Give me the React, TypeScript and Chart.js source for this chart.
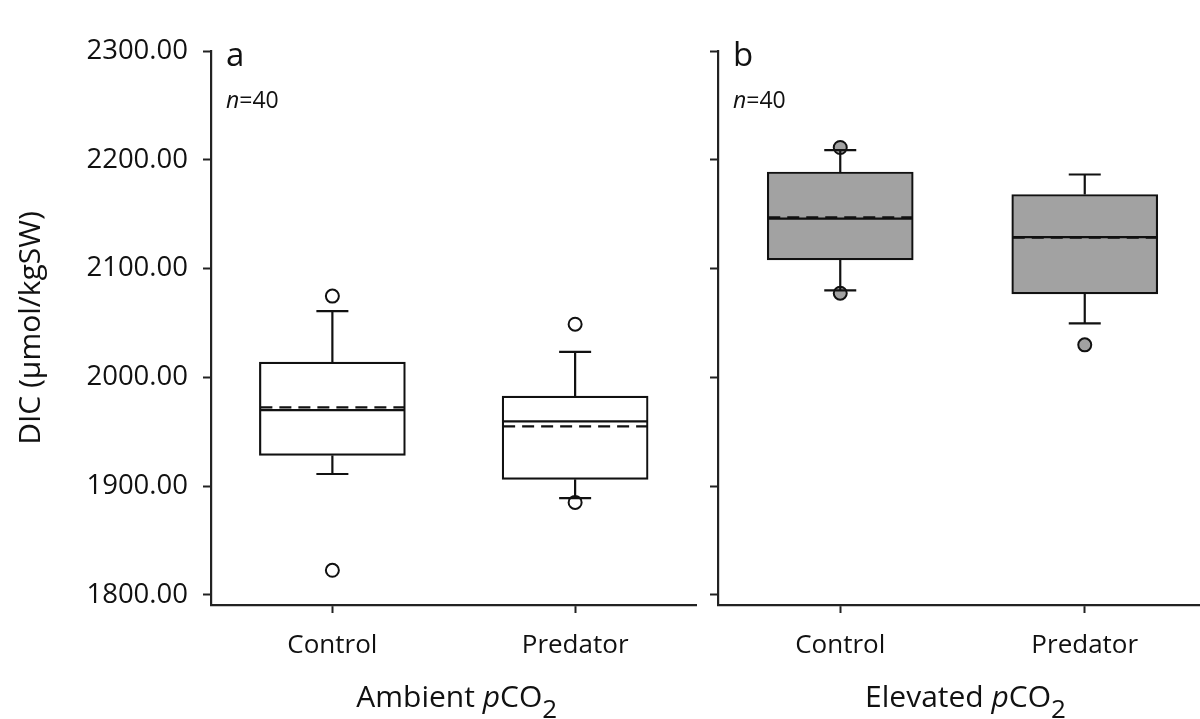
import React, { useEffect, useRef } from 'react';
import { Chart, registerables } from 'chart.js';

Chart.register(...registerables);

// ---- data -------------------------------------------------------------
const CATEGORIES = ['Control', 'Predator'];
const Y_TICKS = [1800, 1900, 2000, 2100, 2200, 2300];
const Y_MIN = 1790.8;
const Y_MAX = 2300;
const SAMPLE_SIZE = 40;

// Ambient pCO2
const AMB_Q1 = [1928.3, 1906.3];
const AMB_Q3 = [2014.0, 1982.8];
const AMB_MEDIAN = [1969.9, 1959.6];
const AMB_MEAN = [1972.4, 1955.0];
const AMB_WHISKER_LOW = [1911.2, 1889.1];
const AMB_WHISKER_HIGH = [2060.9, 2023.5];
const AMB_OUTLIERS_CONTROL = [2074.7, 1822.7];
const AMB_OUTLIERS_PREDATOR = [2048.9, 1885.1];

// Elevated pCO2
const ELE_Q1 = [2108.0, 2076.8];
const ELE_Q3 = [2188.8, 2168.1];
const ELE_MEDIAN = [2146.0, 2128.9];
const ELE_MEAN = [2147.0, 2128.4];
const ELE_WHISKER_LOW = [2079.9, 2049.6];
const ELE_WHISKER_HIGH = [2208.8, 2186.5];
const ELE_OUTLIERS_CONTROL = [2211.3, 2077.4];
const ELE_OUTLIERS_PREDATOR = [2029.9];

// ---- styling ------------------------------------------------------------
const FONT = '"Open Sans", "DejaVu Sans", sans-serif';
const INK = '#111111';
const AXIS = '#222222';
const BOX_WIDTH = 146;
const CAP_WIDTH = 32;

type Panel = {
  letter: string;
  treatment: string;
  q1: number[];
  q3: number[];
  median: number[];
  mean: number[];
  low: number[];
  high: number[];
  outliers: number[][];
  fill: string;
  showYLabels: boolean;
  yAxisWidth: number;
  padRight: number;
};

const PANELS: Panel[] = [
  {
    letter: 'a',
    treatment: 'Ambient ',
    q1: AMB_Q1,
    q3: AMB_Q3,
    median: AMB_MEDIAN,
    mean: AMB_MEAN,
    low: AMB_WHISKER_LOW,
    high: AMB_WHISKER_HIGH,
    outliers: [AMB_OUTLIERS_CONTROL, AMB_OUTLIERS_PREDATOR],
    fill: '#ffffff',
    showYLabels: true,
    yAxisWidth: 211,
    padRight: 7,
  },
  {
    letter: 'b',
    treatment: 'Elevated ',
    q1: ELE_Q1,
    q3: ELE_Q3,
    median: ELE_MEDIAN,
    mean: ELE_MEAN,
    low: ELE_WHISKER_LOW,
    high: ELE_WHISKER_HIGH,
    outliers: [ELE_OUTLIERS_CONTROL, ELE_OUTLIERS_PREDATOR],
    fill: '#a2a2a2',
    showYLabels: false,
    yAxisWidth: 18,
    padRight: 13,
  },
];

// whiskers, caps, median (solid) and mean (dashed) on top of the boxes
function whiskerPlugin(panel: Panel) {
  return {
    id: 'whiskers',
    afterDatasetsDraw(chart: any) {
      const { ctx, scales } = chart;
      const x = scales.x;
      const y = scales.y;
      ctx.save();
      ctx.strokeStyle = INK;
      ctx.lineWidth = 2.2;
      const seg = (x1: number, y1: number, x2: number, y2: number) => {
        ctx.beginPath();
        ctx.moveTo(x1, y1);
        ctx.lineTo(x2, y2);
        ctx.stroke();
      };
      CATEGORIES.forEach((_c, i) => {
        const cx = x.getPixelForValue(i);
        const yQ1 = y.getPixelForValue(panel.q1[i]);
        const yQ3 = y.getPixelForValue(panel.q3[i]);
        const yHi = y.getPixelForValue(panel.high[i]);
        const yLo = y.getPixelForValue(panel.low[i]);
        ctx.setLineDash([]);
        seg(cx, yQ3, cx, yHi);
        seg(cx - CAP_WIDTH / 2, yHi, cx + CAP_WIDTH / 2, yHi);
        seg(cx, yQ1, cx, yLo);
        seg(cx - CAP_WIDTH / 2, yLo, cx + CAP_WIDTH / 2, yLo);
        const half = BOX_WIDTH / 2 - 1;
        const yMed = y.getPixelForValue(panel.median[i]);
        seg(cx - half, yMed, cx + half, yMed);
        const yMean = y.getPixelForValue(panel.mean[i]);
        ctx.setLineDash([12, 7]);
        seg(cx - half, yMean, cx + half, yMean);
      });
      ctx.restore();
    },
  };
}

type Part = { text: string; font: string; dy?: number };

function drawParts(ctx: CanvasRenderingContext2D, parts: Part[], cx: number, baseline: number, align: 'center' | 'left') {
  let total = 0;
  const widths = parts.map((p) => {
    ctx.font = p.font;
    const w = ctx.measureText(p.text).width;
    total += w;
    return w;
  });
  let xPos = align === 'center' ? cx - total / 2 : cx;
  ctx.textAlign = 'left';
  ctx.textBaseline = 'alphabetic';
  parts.forEach((p, i) => {
    ctx.font = p.font;
    ctx.fillText(p.text, xPos, baseline + (p.dy || 0));
    xPos += widths[i];
  });
}

// panel letter, sample size, group title and (left panel) the y title
function labelPlugin(panel: Panel) {
  return {
    id: 'labels',
    afterDraw(chart: any) {
      const { ctx, chartArea } = chart;
      ctx.save();
      ctx.fillStyle = INK;
      drawParts(ctx, [{ text: panel.letter, font: `33px ${FONT}` }], chartArea.left + 15, 66, 'left');
      drawParts(
        ctx,
        [
          { text: 'n', font: `italic 23px ${FONT}` },
          { text: `=${SAMPLE_SIZE}`, font: `23px ${FONT}` },
        ],
        chartArea.left + 15,
        108,
        'left'
      );
      const midX = (chartArea.left + chartArea.right) / 2 + 3;
      drawParts(
        ctx,
        [
          { text: panel.treatment, font: `30px ${FONT}` },
          { text: 'p', font: `italic 30px ${FONT}` },
          { text: 'CO', font: `30px ${FONT}` },
          { text: '2', font: `26px ${FONT}`, dy: 11 },
        ],
        midX,
        707,
        'center'
      );
      if (panel.showYLabels) {
        ctx.translate(31, (chartArea.top + chartArea.bottom) / 2);
        ctx.rotate(-Math.PI / 2);
        ctx.font = `30px ${FONT}`;
        ctx.textAlign = 'center';
        ctx.textBaseline = 'middle';
        ctx.fillText('DIC (\u00b5mol/kgSW)', 0, 0);
      }
      ctx.restore();
    },
  };
}

function buildChart(canvas: HTMLCanvasElement, panel: Panel) {
  const outlierPoints: { x: string; y: number }[] = [];
  panel.outliers.forEach((vals, i) => {
    vals.forEach((v) => outlierPoints.push({ x: CATEGORIES[i], y: v }));
  });

  return new Chart(canvas, {
    type: 'bar',
    data: {
      labels: CATEGORIES,
      datasets: [
        {
          type: 'line',
          data: outlierPoints as any,
          showLine: false,
          pointRadius: 6.5,
          pointBorderWidth: 2,
          pointBackgroundColor: panel.fill,
          pointBorderColor: INK,
          order: 0,
        } as any,
        {
          type: 'bar',
          data: CATEGORIES.map((_c, i) => [panel.q1[i], panel.q3[i]]) as any,
          backgroundColor: panel.fill,
          borderColor: INK,
          borderWidth: 2.2,
          borderSkipped: false,
          barThickness: BOX_WIDTH,
          order: 1,
        } as any,
      ],
    },
    options: {
      responsive: false,
      animation: false,
      events: [],
      layout: { padding: { top: 51, right: panel.padRight, bottom: 0, left: 0 } },
      plugins: {
        legend: { display: false },
        tooltip: { enabled: false },
        title: { display: false },
      },
      scales: {
        x: {
          type: 'category',
          offset: true,
          grid: {
            offset: false,
            drawOnChartArea: false,
            drawTicks: true,
            tickLength: 8,
            tickWidth: 2,
            color: AXIS,
          },
          border: { display: true, color: AXIS, width: 2.2 },
          ticks: {
            color: INK,
            font: { family: FONT, size: 26 },
            padding: 17,
            maxRotation: 0,
            autoSkip: false,
          },
          afterFit: (scale: any) => {
            scale.height = 114;
          },
        },
        y: {
          type: 'linear',
          min: Y_MIN,
          max: Y_MAX,
          grid: {
            drawOnChartArea: false,
            drawTicks: true,
            tickLength: 8,
            tickWidth: 2,
            color: AXIS,
          },
          border: { display: true, color: AXIS, width: 2.2 },
          ticks: {
            color: INK,
            font: { family: FONT, size: 27.5 },
            padding: 15,
            autoSkip: false,
            callback: (v: any) => (panel.showYLabels ? Number(v).toFixed(2) : ''),
          },
          afterBuildTicks: (scale: any) => {
            scale.ticks = Y_TICKS.map((v) => ({ value: v }));
          },
          afterFit: (scale: any) => {
            scale.width = panel.yAxisWidth;
          },
        },
      },
    },
    plugins: [whiskerPlugin(panel), labelPlugin(panel)],
  } as any);
}

export default function App() {
  const leftRef = useRef<HTMLCanvasElement>(null);
  const rightRef = useRef<HTMLCanvasElement>(null);

  useEffect(() => {
    const charts: Chart[] = [];
    if (leftRef.current) charts.push(buildChart(leftRef.current, PANELS[0]));
    if (rightRef.current) charts.push(buildChart(rightRef.current, PANELS[1]));
    return () => charts.forEach((c) => c.destroy());
  }, []);

  return (
    <div
      style={{
        position: 'fixed',
        left: 0,
        top: 0,
        width: 1200,
        height: 719,
        overflow: 'hidden',
        background: '#ffffff',
      }}
    >
      <canvas
        ref={leftRef}
        width={705}
        height={719}
        style={{ position: 'absolute', left: 0, top: 0, width: 705, height: 719 }}
      />
      <canvas
        ref={rightRef}
        width={520}
        height={719}
        style={{ position: 'absolute', left: 700, top: 0, width: 520, height: 719 }}
      />
    </div>
  );
}
